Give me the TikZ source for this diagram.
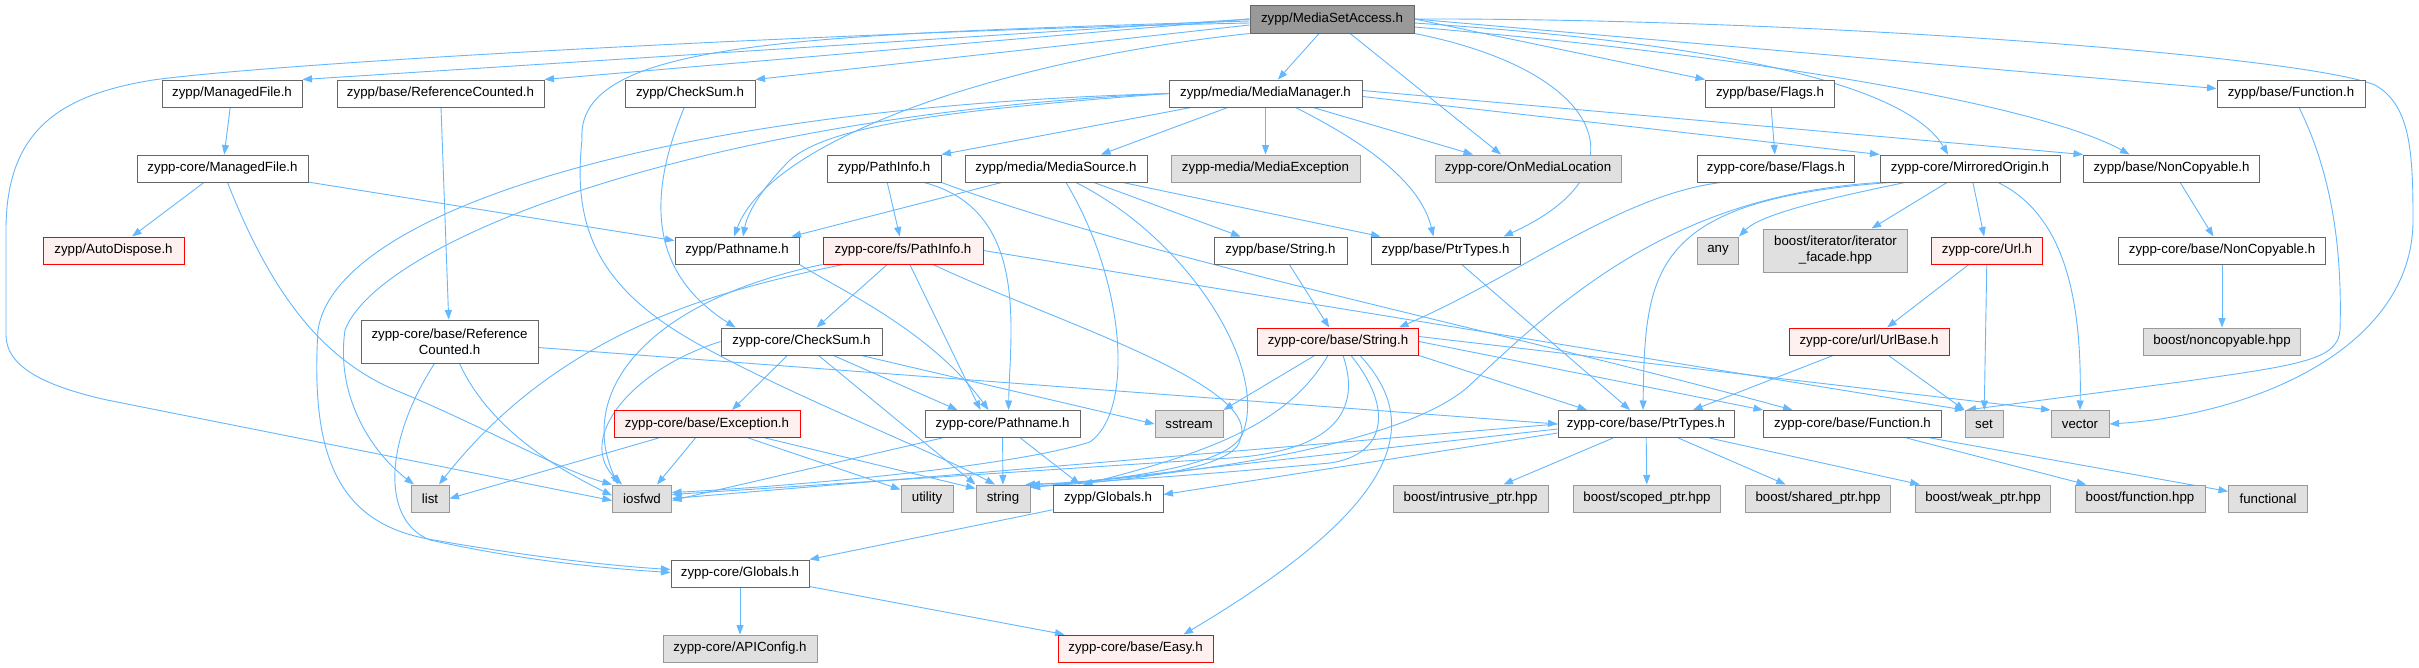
\documentclass[tikz,border=0pt]{standalone}
\usepackage{fontspec}
\setmainfont{Liberation Sans}
\usetikzlibrary{arrows.meta}
\definecolor{eblue}{HTML}{63B8FF}
\definecolor{bdark}{HTML}{666666}
\definecolor{bgray}{HTML}{999999}
\definecolor{fgray}{HTML}{E0E0E0}
\definecolor{fpink}{HTML}{FFF0F0}
\definecolor{fmsa}{HTML}{999999}
\pgfdeclarelayer{bg}
\pgfsetlayers{bg,main}
\begin{document}
\begin{tikzpicture}[x=1pt,y=-1pt,
 nd/.style={draw=bdark, fill=white, line width=1pt, inner sep=0pt, minimum height=27pt, font=\fontsize{13.3}{16}\selectfont, align=center},
 gr/.style={nd, draw=bgray, fill=fgray},
 rd/.style={nd, draw=red, fill=fpink},
 lnk/.style={draw=eblue, line width=0.9pt, -{Triangle[length=9.5pt,width=7pt]}},
]
\useasboundingbox (0,0) rectangle (2419,667);
% row 0
\node[nd, fill=fmsa, minimum width=164pt, minimum height=28pt] (msa) at (1332,19) {zypp/MediaSetAccess.h};
% row 1
\node[nd, minimum width=140pt] (mf) at (232,93.5) {zypp/ManagedFile.h};
\node[nd, minimum width=207pt] (rc) at (440.5,93.5) {zypp/base/ReferenceCounted.h};
\node[nd, minimum width=130pt] (cs) at (690,93.5) {zypp/CheckSum.h};
\node[nd, minimum width=193pt] (mm) at (1265.5,93.5) {zypp/media/MediaManager.h};
\node[nd, minimum width=129pt] (flags) at (1770,93.5) {zypp/base/Flags.h};
\node[nd, minimum width=148pt] (func) at (2291,93.5) {zypp/base/Function.h};
% row 2
\node[nd, minimum width=171pt] (mfc) at (222.5,168.5) {zypp-core/ManagedFile.h};
\node[nd, minimum width=114pt] (pi) at (884,168.5) {zypp/PathInfo.h};
\node[nd, minimum width=182pt] (ms) at (1056,168.5) {zypp/media/MediaSource.h};
\node[gr, minimum width=189pt] (mex) at (1265.5,168.5) {zypp-media/MediaException};
\node[gr, minimum width=186pt] (oml) at (1528,168.5) {zypp-core/OnMediaLocation};
\node[nd, minimum width=157pt] (flagsc) at (1776,168.5) {zypp-core/base/Flags.h};
\node[nd, minimum width=180pt] (mo) at (1970,168.5) {zypp-core/MirroredOrigin.h};
\node[nd, minimum width=176pt] (nc) at (2171.5,168.5) {zypp/base/NonCopyable.h};
% row 3
\node[rd, minimum width=141pt] (ad) at (113.5,250.5) {zypp/AutoDispose.h};
\node[nd, minimum width=124pt] (pn) at (737,250.5) {zypp/Pathname.h};
\node[rd, minimum width=160pt] (fpi) at (903,250.5) {zypp-core/fs/PathInfo.h};
\node[nd, minimum width=133pt] (zstr) at (1280.5,250.5) {zypp/base/String.h};
\node[nd, minimum width=149pt] (ptr) at (1445.5,250.5) {zypp/base/PtrTypes.h};
\node[gr, minimum width=41pt] (any) at (1718,250.5) {any};
\node[gr, minimum width=144pt, minimum height=43pt] (itf) at (1835.5,250.5) {boost/iterator/iterator\\\_facade.hpp};
\node[rd, minimum width=111pt] (url) at (1987,250.5) {zypp-core/Url.h};
\node[nd, minimum width=207pt] (ncc) at (2222,250.5) {zypp-core/base/NonCopyable.h};
% row 4
\node[nd, minimum width=177pt, minimum height=43pt] (rcc) at (449.5,341.5) {zypp-core/base/Reference\\Counted.h};
\node[nd, minimum width=161pt] (csc) at (801.5,341.5) {zypp-core/CheckSum.h};
\node[rd, minimum width=161pt] (strc) at (1338,341.5) {zypp-core/base/String.h};
\node[rd, minimum width=160pt] (ub) at (1869,341.5) {zypp-core/url/UrlBase.h};
\node[gr, minimum width=157pt] (nch) at (2222,341.5) {boost/noncopyable.hpp};
% row 5
\node[rd, minimum width=186pt] (exc) at (707,424) {zypp-core/base/Exception.h};
\node[nd, minimum width=155pt] (pnc) at (1002.5,424) {zypp-core/Pathname.h};
\node[gr, minimum width=68pt] (ss) at (1189,424) {sstream};
\node[nd, minimum width=176pt] (ptrc) at (1646,424) {zypp-core/base/PtrTypes.h};
\node[nd, minimum width=178pt] (funcc) at (1852.5,424) {zypp-core/base/Function.h};
\node[gr, minimum width=38pt] (set) at (1984,424) {set};
\node[gr, minimum width=58pt] (vec) at (2080,424) {vector};
% row 6
\node[gr, minimum width=38pt] (list) at (430,498.5) {list};
\node[gr, minimum width=59pt] (iosfwd) at (642,498.5) {iosfwd};
\node[gr, minimum width=52pt] (util) at (927,498.5) {utility};
\node[gr, minimum width=54pt] (string) at (1003,498.5) {string};
\node[nd, minimum width=110pt] (zglob) at (1108,498.5) {zypp/Globals.h};
\node[gr, minimum width=155pt] (intr) at (1470.5,498.5) {boost/intrusive\_ptr.hpp};
\node[gr, minimum width=147pt] (scoped) at (1647,498.5) {boost/scoped\_ptr.hpp};
\node[gr, minimum width=145pt] (shared) at (1818,498.5) {boost/shared\_ptr.hpp};
\node[gr, minimum width=135pt] (weak) at (1983,498.5) {boost/weak\_ptr.hpp};
\node[gr, minimum width=130pt] (bfunc) at (2140,498.5) {boost/function.hpp};
\node[gr, minimum width=79pt] (functional) at (2268,498.5) {functional};
% rows 7-8
\node[nd, minimum width=138pt] (gcore) at (740,573.5) {zypp-core/Globals.h};
\node[gr, minimum width=154pt] (apic) at (740,648.5) {zypp-core/APIConfig.h};
\node[rd, minimum width=155pt] (easy) at (1135.5,648.5) {zypp-core/base/Easy.h};

\begin{pgfonlayer}{bg}
\fill[white] (0,0) rectangle (2419,667);
% MediaSetAccess
\draw[lnk] (msa.west) -- (mf.north east);
\draw[lnk] (msa.west) -- (rc.north east);
\draw[lnk] ([yshift=-6pt]msa.west) -- (cs.north east);
\draw[lnk] (msa) -- (mm);
\draw[lnk] (msa.east) -- (flags.north west);
\draw[lnk] (msa.east) -- ([yshift=5pt]func.west);
\draw[lnk] (msa) -- ([xshift=-27pt]oml.north);
\draw[lnk] ([yshift=-4pt]msa.east) .. controls (1750,45) and (1910,90) .. ([xshift=-22pt]mo.north);
\draw[lnk] ([yshift=-8pt]msa.east) .. controls (1800,60) and (2050,110) .. ([xshift=-42pt]nc.north);
\draw[lnk] (msa.south west) .. controls (1000,60) and (770,140) .. ([xshift=-3pt]pn.north);
\draw[lnk] (msa.south east) .. controls (1600,70) and (1650,170) .. ([xshift=-17pt]ptr.north east);
\draw[lnk] ([yshift=-4pt]msa.west) .. controls (900,30) and (300,60) .. (153,80) .. controls (60,95) and (6,130) .. (6,230) -- (6,335) .. controls (6,365) and (40,385) .. (107,400) -- ([yshift=-2pt]iosfwd.west);
\draw[lnk] ([yshift=-2pt]msa.west) .. controls (800,35) and (575,40) .. (582,140) .. controls (572,230) and (600,290) .. (700,345) .. controls (790,395) and (930,450) .. ([xshift=-8pt]string.north);
\draw[lnk] (msa.east) .. controls (1800,18) and (2300,55) .. (2375,85) .. controls (2410,105) and (2413,150) .. (2413,220) .. controls (2413,350) and (2250,415) .. (vec.east);
% MediaManager
\draw[lnk] (mm) -- (pi.north east);
\draw[lnk] (mm) -- ([xshift=45pt]ms.north);
\draw[lnk] (mm) -- (mex);
\draw[lnk] (mm) -- ([xshift=-55pt]oml.north);
\draw[lnk] ([xshift=30pt]mm.south) .. controls (1360,140) and (1420,180) .. ([xshift=-12pt]ptr.north);
\draw[lnk] ([yshift=-3pt]mm.east) -- (mo.north west);
\draw[lnk] ([yshift=3pt]mm.east) -- (nc.north west);
\draw[lnk] (mm.west) .. controls (950,110) and (830,125) .. (790,160) .. controls (765,185) and (748,210) .. ([xshift=6pt]pn.north);
\draw[lnk] (mm.west) .. controls (700,115) and (380,240) .. (345,330) .. controls (335,400) and (375,455) .. ([xshift=-16pt]list.north);
\draw[lnk] (mm.west) .. controls (650,108) and (335,215) .. (318,330) .. controls (310,460) and (340,525) .. (434,540) .. controls (520,555) and (600,565) .. ([yshift=4pt]gcore.west);
% ManagedFile
\draw[lnk] (mf) -- (mfc);
\draw[lnk] (mfc) -- (ad);
\draw[lnk] (mfc) -- (pn);
\draw[lnk] ([xshift=5pt]mfc.south) .. controls (270,290) and (320,360) .. (400,392) .. controls (480,425) and (560,470) .. (iosfwd.north west);
% ReferenceCounted
\draw[lnk] (rc) -- (rcc);
\draw[lnk] ([yshift=-6pt]rcc.east) -- (ptrc.west);
\draw[lnk] ([xshift=-15pt]rcc.south) .. controls (385,440) and (380,520) .. (430,540) .. controls (520,560) and (600,568) .. ([yshift=1pt]gcore.west);
\draw[lnk] ([xshift=10pt]rcc.south) .. controls (490,430) and (560,470) .. ([yshift=3pt]iosfwd.west);
% CheckSum
\draw[lnk] (cs) .. controls (650,190) and (645,270) .. ([xshift=15pt]csc.north west);
% PathInfo
\draw[lnk] (pi) -- (fpi);
\draw[lnk] ([xshift=40pt]pi.south) .. controls (1030,210) and (1010,330) .. ([xshift=6pt]pnc.north);
\draw[lnk] (pi.south east) .. controls (1150,260) and (1500,330) .. ([xshift=-60pt]funcc.north);
% MediaSource
\draw[lnk] (ms) -- ([xshift=-8pt]pn.north east);
\draw[lnk] (ms) -- ([xshift=-40pt]zstr.north);
\draw[lnk] (ms) -- ([xshift=10pt]ptr.north west);
\draw[lnk] ([xshift=10pt]ms.south) .. controls (1125,280) and (1135,410) .. (1090,442) .. controls (1000,470) and (760,488) .. ([yshift=6pt]iosfwd.east);
\draw[lnk] ([xshift=20pt]ms.south) .. controls (1190,240) and (1270,370) .. (1242,435) .. controls (1225,470) and (1100,480) .. ([yshift=11pt]string.east);
% zypp/base
\draw[lnk] (zstr) -- (strc);
\draw[lnk] (ptr) -- ([xshift=-16pt]ptrc.north);
\draw[lnk] (flags) -- (flagsc);
\draw[lnk] ([xshift=-55pt]flagsc.south) .. controls (1620,195) and (1520,275) .. ([xshift=-20pt]strc.north east);
\draw[lnk] ([xshift=8pt]func.south) .. controls (2335,180) and (2342,260) .. (2340,330) .. controls (2338,360) and (2300,365) .. (2180,382) -- ([xshift=2pt]set.north west);
% MirroredOrigin
\draw[lnk] ([xshift=-65pt]mo.south) .. controls (1820,200) and (1760,215) .. (any.north east);
\draw[lnk] (mo) -- (itf);
\draw[lnk] (mo) -- (url);
\draw[lnk] ([xshift=28pt]mo.south) .. controls (2065,215) and (2082,300) .. (vec.north);
\draw[lnk] ([xshift=-80pt]mo.south) .. controls (1650,200) and (1645,270) .. ([xshift=-3pt]ptrc.north);
\draw[lnk] (mo.south west) .. controls (1680,195) and (1570,290) .. (1470,385) .. controls (1400,450) and (1150,480) .. ([xshift=-5pt]string.north east);
% Url
\draw[lnk] (url) -- (ub);
\draw[lnk] (url) -- (set);
\draw[lnk] (ub) -- ([xshift=47pt]ptrc.north);
\draw[lnk] (ub) -- (set.north west);
% NonCopyable
\draw[lnk] (nc) -- (ncc);
\draw[lnk] (ncc) -- (nch);
% fs/PathInfo
\draw[lnk] ([xshift=-60pt]fpi.south) .. controls (720,290) and (560,330) .. ([xshift=9pt]list.north);
\draw[lnk] (fpi.south west) .. controls (650,300) and (575,390) .. ([xshift=-24pt]iosfwd.north);
\draw[lnk] (fpi) -- ([xshift=15pt]csc.north);
\draw[lnk] (fpi) -- ([xshift=-22pt]pnc.north);
\draw[lnk] ([xshift=30pt]fpi.south) .. controls (1050,320) and (1265,385) .. (1240,440) .. controls (1234,470) and (1120,482) .. ([yshift=12pt]string.east);
\draw[lnk] (fpi.east) -- (set.north west);
% CheckSum core
\draw[lnk] (csc) -- ([xshift=25pt]exc.north);
\draw[lnk] (csc) -- ([xshift=-45pt]pnc.north);
\draw[lnk] (csc) -- (ss.west);
\draw[lnk] (csc) -- (string.north west);
\draw[lnk] (csc.west) .. controls (630,370) and (575,440) .. ([xshift=-20pt]iosfwd.north);
% Exception
\draw[lnk] (exc) -- (list.east);
\draw[lnk] (exc) -- ([xshift=15pt]iosfwd.north);
\draw[lnk] (exc) -- (util);
\draw[lnk] (exc) -- ([yshift=-4pt]string.north west);
% Pathname
\draw[lnk] (pn.south east) .. controls (840,290) and (930,330) .. ([xshift=-14pt]pnc.north);
\draw[lnk] (pnc) -- (string);
\draw[lnk] (pnc) -- ([xshift=-28pt]zglob.north);
\draw[lnk] (pnc) -- ([yshift=-2pt]iosfwd.east);
% Globals
\draw[lnk] (zglob) -- (gcore.north east);
\draw[lnk] (gcore) -- (apic);
\draw[lnk] (gcore) -- ([xshift=7pt]easy.north west);
% String core
\draw[lnk] (strc) -- (ss.north east);
\draw[lnk] ([xshift=-10pt]strc.south) .. controls (1290,420) and (1220,450) .. ([xshift=-25pt]zglob.north);
\draw[lnk] ([xshift=13pt]strc.south) .. controls (1395,410) and (1385,455) .. (1330,463) .. controls (1200,475) and (1100,482) .. (string.north east);
\draw[lnk] ([xshift=22pt]strc.south) .. controls (1420,420) and (1410,500) .. ([xshift=-30pt]easy.north east);
\draw[lnk] ([xshift=5pt]strc.south) .. controls (1365,420) and (1320,452) .. (1230,458) -- ([yshift=4pt]iosfwd.east);
\draw[lnk] (strc.south east) -- ([xshift=-59pt]ptrc.north);
\draw[lnk] (strc.east) -- (funcc.north west);
\draw[lnk] ([yshift=5pt]strc.east) -- (vec.north west);
% PtrTypes core
\draw[lnk] (ptrc.west) -- (iosfwd.east);
\draw[lnk] ([yshift=-5pt]ptrc.west) -- ([yshift=11pt]string.east);
\draw[lnk] ([yshift=-9pt]ptrc.west) -- ([yshift=4pt]zglob.east);
\draw[lnk] (ptrc) -- (intr);
\draw[lnk] (ptrc) -- (scoped);
\draw[lnk] (ptrc) -- (shared);
\draw[lnk] (ptrc) -- (weak);
% Function core
\draw[lnk] (funcc) -- (bfunc);
\draw[lnk] (funcc) -- (functional);
\end{pgfonlayer}
\end{tikzpicture}
\end{document}
